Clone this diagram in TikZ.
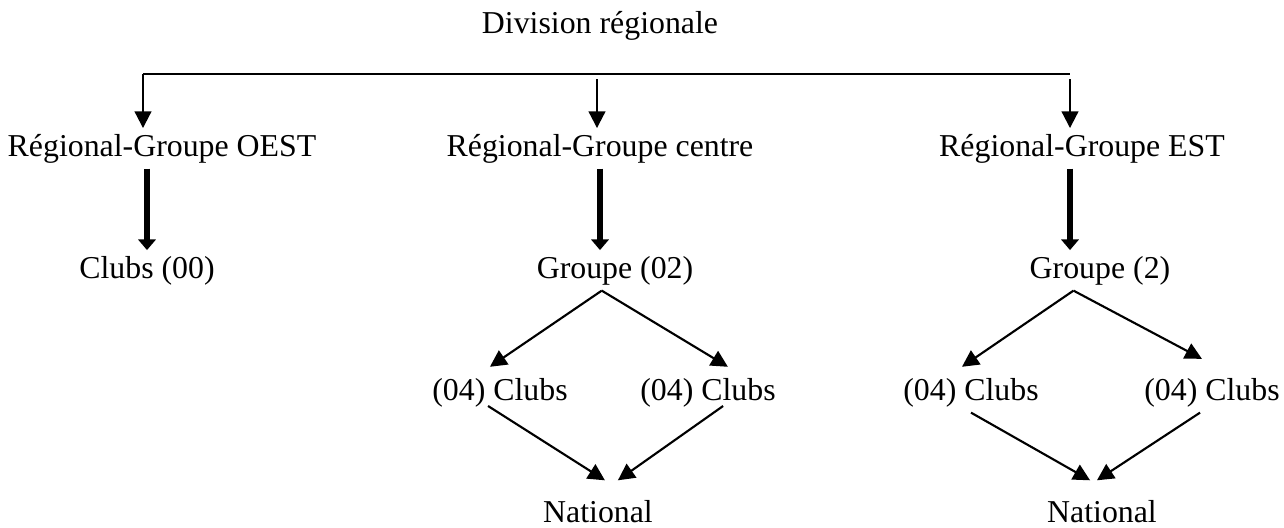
\documentclass[tikz,border=0pt]{standalone}
\usepackage{fontspec}
\setmainfont{Liberation Serif}
\usetikzlibrary{arrows.meta}

\begin{document}
\begin{tikzpicture}[x=0.377pt, y=-0.377pt,
  every node/.style={anchor=base, inner sep=2pt, font=\fontsize{12}{14}\selectfont},
  thinarrow/.style={line width=0.8pt, -{Triangle[length=6.3pt,width=6.3pt]}},
  thickarrow/.style={line width=2.6pt, -{Triangle[length=4pt,width=6.5pt]}},
  busline/.style={line width=0.6pt}]

\useasboundingbox (0,0) rectangle (1284,527);

% Root
\node (div) at (600,33) {Division régionale};

% Level 1 groups
\node (ro) at (162,156) {Régional-Groupe OEST};
\node (rc) at (600,156) {Régional-Groupe centre};
\node (re) at (1082,156) {Régional-Groupe EST};

\coordinate (bw) at (143,74);
\coordinate (be) at (1070,74);
\coordinate (bc) at (597,79);
\coordinate (be2) at (1070,79);

\draw[busline] (bw) -- (be);
\draw[thinarrow] (bw) -- (bw |- ro.north);
\draw[thinarrow] (bc) -- (bc |- rc.north);
\draw[thinarrow] (be2) -- (be2 |- re.north);

% Level 2
\node (co) at (147,278) {Clubs (00)};
\node (gc) at (615,278) {Groupe (02)};
\node (ge) at (1100,278) {Groupe (2)};

\draw[thickarrow] (co.north |- ro.south) -- (co.north);
\draw[thickarrow] (rc.south) -- (rc.south |- gc.north);
\draw[thickarrow] (be2 |- re.south) -- (be2 |- ge.north);

% Level 3: clubs
\node (c1) at (500,400) {(04) Clubs};
\node (c2) at (708,400) {(04) Clubs};
\node (c3) at (971,400) {(04) Clubs};
\node (c4) at (1212,400) {(04) Clubs};

\draw[thinarrow] ([xshift=-5pt]gc.south) -- ([xshift=-3.8pt,yshift=2pt]c1.north);
\draw[thinarrow] ([xshift=-5pt]gc.south) -- ([xshift=7.5pt,yshift=2pt]c2.north);
\draw[thinarrow] ([xshift=-10pt]ge.south) -- ([xshift=-3.4pt,yshift=2pt]c3.north);
\draw[thinarrow] ([xshift=-10pt]ge.south) -- ([xshift=-3.8pt,yshift=5pt]c4.north);

% Level 4: national
\node (n1) at (598,522) {National};
\node (n2) at (1102,522) {National};

\draw[thinarrow] ([xshift=-4.5pt,yshift=2.5pt]c1.south) -- ([xshift=2.6pt,yshift=5.2pt]n1.north);
\draw[thinarrow] ([xshift=5.7pt,yshift=2.5pt]c2.south) -- ([xshift=7.5pt,yshift=5.2pt]n1.north);
\draw[thinarrow] (c3.south) -- ([xshift=-4.5pt,yshift=5.2pt]n2.north);
\draw[thinarrow] ([xshift=-4.5pt]c4.south) -- ([xshift=-1.9pt,yshift=5.2pt]n2.north);

\end{tikzpicture}
\end{document}
